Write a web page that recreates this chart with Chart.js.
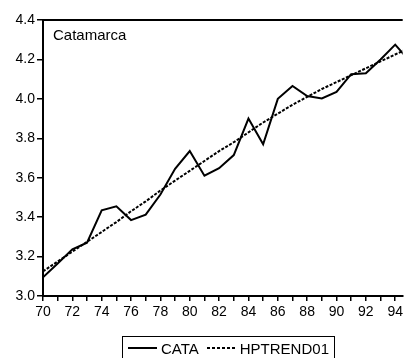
<!DOCTYPE html>
<html>
<head>
<meta charset="utf-8">
<script src="https://cdn.jsdelivr.net/npm/chart.js@4/dist/chart.umd.min.js"></script>
<style>
  html, body { margin: 0; padding: 0; background: #fff; }
  #wrap { position: relative; width: 406px; height: 358px; overflow: hidden; }
  #legend { position: absolute; left: 122px; top: 336px; width: 213px; height: 24px;
    border: 1px solid #000; box-sizing: border-box; font-family: "Liberation Sans", Arial, sans-serif;
    font-size: 15px; color: #000; display: flex; align-items: center; white-space: nowrap; }
  .sw { display: inline-block; width: 29px; height: 2px; margin: 0 4px 0 5px; }
  .solid { background: #000; }
  .dash { background: repeating-linear-gradient(to right, #000 0 3px, transparent 3px 5px); }
</style>
</head>
<body>
<div id="wrap">
  <canvas id="c" width="406" height="358"></canvas>
  <div id="legend"><span class="sw solid"></span><span>CATA</span><span class="sw dash" style="margin-left:8px"></span><span>HPTREND01</span></div>
</div>
<script>
const years = [70,71,72,73,74,75,76,77,78,79,80,81,82,83,84,85,86,87,88,89,90,91,92,93,94,95];
const cata = [3.095,3.165,3.237,3.27,3.435,3.455,3.385,3.413,3.515,3.645,3.735,3.61,3.648,3.715,3.90,3.77,4.00,4.065,4.014,4.002,4.035,4.125,4.13,4.20,4.275,4.19];
const hptrend = [3.125,3.175,3.225,3.275,3.325,3.375,3.43,3.48,3.535,3.585,3.635,3.685,3.735,3.78,3.83,3.88,3.925,3.97,4.01,4.05,4.085,4.12,4.155,4.19,4.225,4.26];
const yTicks = [3.0,3.2,3.4,3.6,3.8,4.0,4.2,4.4];
const regionLabel = "Catamarca";

const toXY = arr => years.map((yr, i) => ({x: yr, y: arr[i]}));

const frameTop = {
  id: 'frameTop',
  afterDraw(chart) {
    const {ctx, chartArea: a} = chart;
    ctx.save();
    ctx.strokeStyle = '#000';
    ctx.lineWidth = 2;
    ctx.beginPath();
    ctx.moveTo(a.left, a.top);
    ctx.lineTo(a.right, a.top);
    ctx.stroke();
    ctx.fillStyle = '#000';
    ctx.font = '15px "Liberation Sans", Arial, sans-serif';
    ctx.textBaseline = 'alphabetic';
    ctx.fillText(regionLabel, a.left + 10, a.top + 20);
    ctx.restore();
  }
};

new Chart(document.getElementById('c'), {
  type: 'line',
  data: {
    datasets: [
      { label: 'CATA', data: toXY(cata), borderColor: '#000', borderWidth: 2, pointRadius: 0, tension: 0, fill: false },
      { label: 'HPTREND01', data: toXY(hptrend), borderColor: '#000', borderWidth: 2, borderDash: [3, 1.5], pointRadius: 0, tension: 0, fill: false }
    ]
  },
  options: {
    responsive: false,
    animation: false,
    layout: { padding: { top: 20, right: 0, bottom: 0, left: 0 } },
    plugins: { legend: { display: false }, tooltip: { enabled: false } },
    scales: {
      x: {
        type: 'linear',
        min: 70,
        max: 94.51,
        afterBuildTicks: s => { s.ticks = years.filter(v => v <= 94).map(v => ({value: v})); },
        afterFit: s => { s.height = 62; },
        ticks: {
          autoSkip: false,
          maxRotation: 0,
          color: '#000',
          padding: 3,
          font: { family: '"Liberation Sans", Arial, sans-serif', size: 14 },
          callback: v => (v % 2 === 0 ? String(v) : '')
        },
        grid: { display: true, drawOnChartArea: false, drawTicks: true, tickLength: 5, color: '#000', lineWidth: 1.5 },
        border: { display: true, color: '#000', width: 2 }
      },
      y: {
        min: 3.0,
        max: 4.4,
        afterBuildTicks: s => { s.ticks = yTicks.map(v => ({value: v})); },
        afterFit: s => { s.width = 43; },
        ticks: {
          color: '#000',
          padding: 2,
          font: { family: '"Liberation Sans", Arial, sans-serif', size: 14 },
          callback: v => Number(v).toFixed(1)
        },
        grid: { display: true, drawOnChartArea: false, drawTicks: true, tickLength: 6, color: '#000', lineWidth: 1.5 },
        border: { display: true, color: '#000', width: 2 }
      }
    }
  },
  plugins: [frameTop]
});
</script>
</body>
</html>
